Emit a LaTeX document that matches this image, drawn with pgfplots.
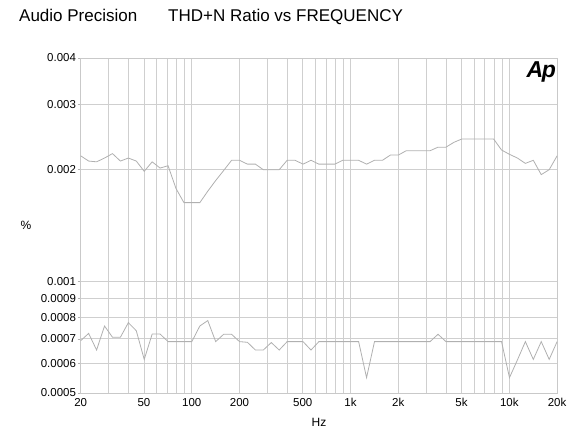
\documentclass[border=0pt]{standalone}
\usepackage{fontspec}
\setmainfont{Liberation Sans}
\usepackage{pgfplots}
\usepackage{pgfplotstable}
\pgfplotsset{compat=1.18}
\pgfplotstableread{
f a b
20 0.00218 0.000692
22.44 0.00211 0.000724
25.18 0.00210 0.000653
28.25 0.00215 0.000758
31.70 0.00221 0.000707
35.57 0.00211 0.000707
39.91 0.00215 0.000774
44.77 0.00211 0.000736
50.24 0.00198 0.000616
56.37 0.00210 0.000721
63.25 0.00202 0.000721
70.96 0.00205 0.000688
79.62 0.00178 0.000688
89.34 0.00163 0.000688
100.2 0.00163 0.000688
112.5 0.00163 0.000758
126.2 0.00175 0.000784
141.6 0.00187 0.000688
158.9 0.00199 0.000720
178.3 0.00212 0.000720
200.0 0.00212 0.000688
224.4 0.00207 0.000685
251.8 0.00207 0.000653
282.5 0.00200 0.000653
317.0 0.00200 0.000684
355.7 0.00200 0.000653
399.1 0.00212 0.000688
447.7 0.00212 0.000688
502.4 0.00207 0.000688
563.7 0.00212 0.000653
632.5 0.00207 0.000688
709.6 0.00207 0.000688
796.2 0.00207 0.000688
893.4 0.00212 0.000688
1002 0.00212 0.000688
1125 0.00212 0.000688
1262 0.00207 0.000550
1416 0.00212 0.000688
1589 0.00212 0.000688
1783 0.00219 0.000688
2000 0.00219 0.000688
2244 0.00225 0.000688
2518 0.00225 0.000688
2825 0.00225 0.000688
3170 0.00225 0.000688
3557 0.00230 0.000720
3991 0.00230 0.000688
4477 0.00237 0.000688
5024 0.00242 0.000688
5637 0.00242 0.000688
6325 0.00242 0.000688
7096 0.00242 0.000688
7962 0.00242 0.000688
8934 0.00226 0.000688
10024 0.00220 0.000550
11247 0.00215 0.000614
12619 0.00208 0.000688
14159 0.00212 0.000616
15887 0.00194 0.000688
17825 0.00200 0.000616
20000 0.00218 0.000688
}\datatable
\begin{document}
\begin{tikzpicture}[x=1pt,y=1pt]
\useasboundingbox (0,0) rectangle (580,432);
\begin{axis}[
  at={(80.7pt,39pt)}, anchor=south west,
  scale only axis, width=476.4pt, height=335pt,
  xmode=log, ymode=log,
  xmin=20, xmax=20000, ymin=0.0005, ymax=0.004,
  xtick={20,50,100,200,500,1000,2000,5000,10000,20000},
  xticklabels={20,50,100,200,500,1k,2k,5k,10k,20k},
  minor xtick={30,40,60,70,80,90,300,400,600,700,800,900,3000,4000,6000,7000,8000,9000},
  ytick={0.0005,0.0006,0.0007,0.0008,0.0009,0.001,0.002,0.003,0.004},
  yticklabels={0.0005,0.0006,0.0007,0.0008,0.0009,0.001,0.002,0.003,0.004},
  grid=both,
  major grid style={draw=gray!38, line width=0.8pt},
  minor grid style={draw=gray!38, line width=0.8pt},
  axis line style={draw=gray!42, line width=0.8pt},
  tick style={draw=gray!60, line width=0.6pt},
  xtick style={draw=none},
  tick align=outside, tick pos=left,
  major tick length=3pt, minor tick length=0pt,
  ticklabel style={font=\fontsize{11.5}{12}\selectfont, text=black},
  yticklabel style={inner sep=1.5pt},
  xticklabel style={inner sep=2pt},
  clip=true,
]
\addplot[draw=gray!62, line width=0.8pt] table[x=f,y=a] {\datatable};
\addplot[draw=gray!62, line width=0.8pt] table[x=f,y=b] {\datatable};
\end{axis}
\node[anchor=base west, inner sep=0pt, font=\fontsize{17}{18}\selectfont] at (19,410.3) {Audio Precision};
\node[anchor=base west, inner sep=0pt, font=\fontsize{17}{18}\selectfont] at (168,410.3) {THD+N Ratio vs FREQUENCY};
\node[anchor=base, inner sep=0pt, font=\fontsize{12}{13}\selectfont] at (319,6) {Hz};
\node[inner sep=0pt, font=\fontsize{12}{13}\selectfont] at (26,207) {\%};
\node[anchor=base east, inner sep=0pt, font=\fontsize{23}{24}\selectfont\bfseries\itshape] at (556,354.7) {A\kern-1.5pt p};
\end{tikzpicture}
\end{document}
